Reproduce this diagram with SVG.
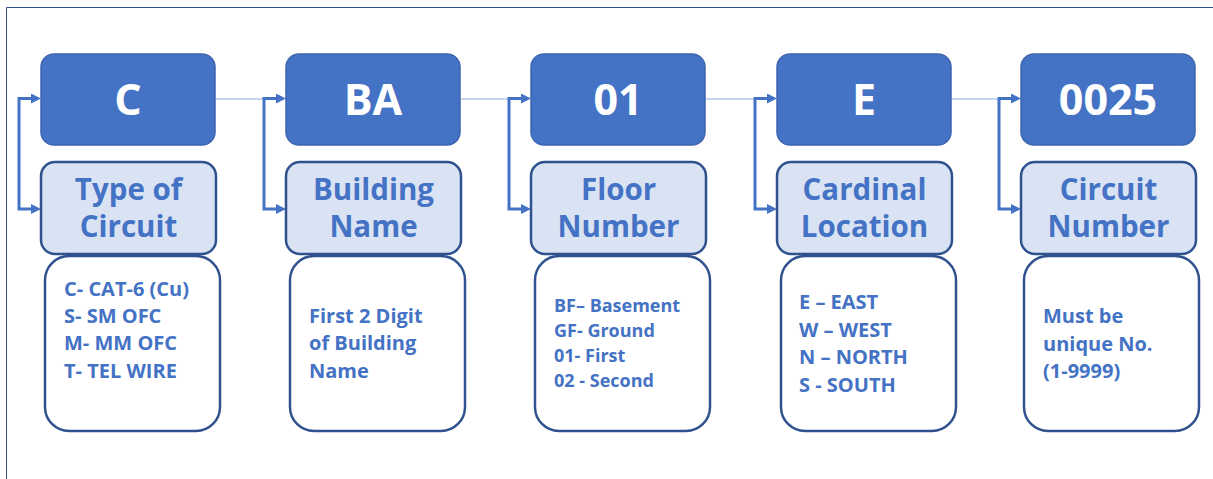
<svg xmlns="http://www.w3.org/2000/svg" width="1213" height="479" viewBox="0 0 1213 479">
<style>
.top{fill:#4472C4;stroke:#3C66B0;stroke-width:1.5}
.lab{fill:#DAE3F3;stroke:#2F528F;stroke-width:2.5}
.desc{fill:#FFFFFF;stroke:#2F528F;stroke-width:2.5}
.tt{font-family:"Open Sans","Noto Sans",sans-serif;font-weight:bold;font-size:43px;fill:#FFFFFF;text-anchor:middle}
.lt{font-family:"Open Sans","Noto Sans",sans-serif;font-weight:bold;font-size:29.5px;fill:#4472C4;text-anchor:middle}
.dt{font-family:"Open Sans","Noto Sans",sans-serif;font-weight:bold;font-size:20px;fill:#4472C4}
.ds{font-size:18px}
.br{fill:none;stroke:#4472C4;stroke-width:3;marker-start:url(#ah);marker-end:url(#ah)}
.th{fill:none;stroke:#8FAADC;stroke-width:1}
.frame{fill:none;stroke:#2F528F;stroke-width:1}
</style>
<defs>
<marker id="ah" viewBox="0 0 10 10" refX="2" refY="5" markerWidth="10" markerHeight="10" markerUnits="userSpaceOnUse" orient="auto-start-reverse">
<path d="M0,0 L10,5 L0,10 z" fill="#4472C4"/>
</marker>
</defs>
<path class="frame" d="M6.5,479 V7.5 H1213"/>
<g id="connectors">
<path class="br" d="M33,98.5 H19 V209 H33"/>
<path class="th" d="M216,99 H264"/>
<path class="br" d="M278,98.5 H264 V209 H278"/>
<path class="th" d="M461,99 H509"/>
<path class="br" d="M523,98.5 H509 V209 H523"/>
<path class="th" d="M706,99 H755"/>
<path class="br" d="M769,98.5 H755 V209 H769"/>
<path class="th" d="M951,99 H999"/>
<path class="br" d="M1013,98.5 H999 V209 H1013"/>
</g>
<g id="node-c">
<rect class="top" x="41" y="54" width="174" height="91" rx="13"/>
<text class="tt" x="128" y="115">C</text>
<rect class="lab" x="41" y="162" width="175" height="92" rx="14"/>
<text class="lt" x="128.5" y="200">Type of</text>
<text class="lt" x="128.5" y="237">Circuit</text>
<rect class="desc" x="45" y="256" width="175" height="175" rx="24"/>
<text class="dt" x="64" y="296">C- CAT-6 (Cu)</text>
<text class="dt" x="64" y="323">S- SM OFC</text>
<text class="dt" x="64" y="350">M- MM OFC</text>
<text class="dt" x="64" y="378">T- TEL WIRE</text>
</g>
<g id="node-ba">
<rect class="top" x="286" y="54" width="174" height="91" rx="13"/>
<text class="tt" x="373" y="115">BA</text>
<rect class="lab" x="286" y="162" width="175" height="92" rx="14"/>
<text class="lt" x="373.5" y="200">Building</text>
<text class="lt" x="373.5" y="237">Name</text>
<rect class="desc" x="290" y="256" width="175" height="175" rx="24"/>
<text class="dt" x="309" y="323">First 2 Digit</text>
<text class="dt" x="309" y="350">of Building</text>
<text class="dt" x="309" y="378">Name</text>
</g>
<g id="node-01">
<rect class="top" x="531" y="54" width="174" height="91" rx="13"/>
<text class="tt" x="618" y="115">01</text>
<rect class="lab" x="531" y="162" width="175" height="92" rx="14"/>
<text class="lt" x="618.5" y="200">Floor</text>
<text class="lt" x="618.5" y="237">Number</text>
<rect class="desc" x="535" y="256" width="175" height="175" rx="24"/>
<text class="dt ds" x="554" y="312">BF– Basement</text>
<text class="dt ds" x="554" y="337">GF- Ground</text>
<text class="dt ds" x="554" y="362">01- First</text>
<text class="dt ds" x="554" y="387">02 - Second</text>
</g>
<g id="node-e">
<rect class="top" x="777" y="54" width="174" height="91" rx="13"/>
<text class="tt" x="864" y="115">E</text>
<rect class="lab" x="777" y="162" width="175" height="92" rx="14"/>
<text class="lt" x="864.5" y="200">Cardinal</text>
<text class="lt" x="864.5" y="237">Location</text>
<rect class="desc" x="781" y="256" width="175" height="175" rx="24"/>
<text class="dt" x="799" y="309">E – EAST</text>
<text class="dt" x="799" y="337">W – WEST</text>
<text class="dt" x="799" y="364">N – NORTH</text>
<text class="dt" x="799" y="392">S - SOUTH</text>
</g>
<g id="node-0025">
<rect class="top" x="1021" y="54" width="174" height="91" rx="13"/>
<text class="tt" x="1108" y="115">0025</text>
<rect class="lab" x="1021" y="162" width="175" height="92" rx="14"/>
<text class="lt" x="1108.5" y="200">Circuit</text>
<text class="lt" x="1108.5" y="237">Number</text>
<rect class="desc" x="1024" y="256" width="175" height="175" rx="24"/>
<text class="dt" x="1043" y="323">Must be</text>
<text class="dt" x="1043" y="351">unique No.</text>
<text class="dt" x="1043" y="378">(1-9999)</text>
</g>
</svg>
